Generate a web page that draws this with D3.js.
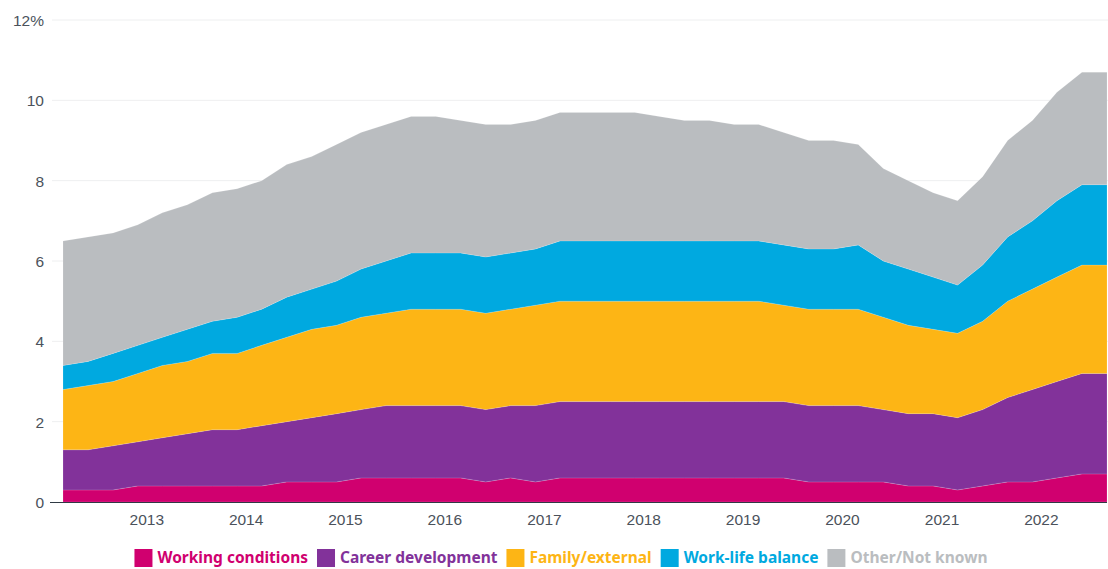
<!DOCTYPE html>
<html>
<head>
<meta charset="utf-8">
<script src="https://cdn.jsdelivr.net/npm/d3@7"></script>
<style>
  body { margin: 0; background: #fff; }
  svg { display: block; font-family: "Noto Sans", "Open Sans", sans-serif; }
  .tick-label { fill: #4b525b; font-size: 15.5px; }
  .legend-label { font-size: 15.5px; font-weight: 700; }
</style>
</head>
<body>
<div id="chart"></div>
<script>
const width = 1108;
const height = 569;
const margin = { top: 20, bottom: 67, left: 63, right: 1 };

// quarterly observations, first one early 2012
const startDate = new Date(2012, 2, 1);
const nPoints = 43;

const working = [0.3,0.3,0.3,0.4,0.4,0.4,0.4,0.4,0.4,0.5,0.5,0.5,0.6,0.6,0.6,0.6,0.6,0.5,0.6,0.5,0.6,0.6,0.6,0.6,0.6,0.6,0.6,0.6,0.6,0.6,0.5,0.5,0.5,0.5,0.4,0.4,0.3,0.4,0.5,0.5,0.6,0.7,0.7];
const career = [1.0,1.0,1.1,1.1,1.2,1.3,1.4,1.4,1.5,1.5,1.6,1.7,1.7,1.8,1.8,1.8,1.8,1.8,1.8,1.9,1.9,1.9,1.9,1.9,1.9,1.9,1.9,1.9,1.9,1.9,1.9,1.9,1.9,1.8,1.8,1.8,1.8,1.9,2.1,2.3,2.4,2.5,2.5];
const family = [1.5,1.6,1.6,1.7,1.8,1.8,1.9,1.9,2.0,2.1,2.2,2.2,2.3,2.3,2.4,2.4,2.4,2.4,2.4,2.5,2.5,2.5,2.5,2.5,2.5,2.5,2.5,2.5,2.5,2.4,2.4,2.4,2.4,2.3,2.2,2.1,2.1,2.2,2.4,2.5,2.6,2.7,2.7];
const workLife = [0.6,0.6,0.7,0.7,0.7,0.8,0.8,0.9,0.9,1.0,1.0,1.1,1.2,1.3,1.4,1.4,1.4,1.4,1.4,1.4,1.5,1.5,1.5,1.5,1.5,1.5,1.5,1.5,1.5,1.5,1.5,1.5,1.6,1.4,1.4,1.3,1.2,1.4,1.6,1.7,1.9,2.0,2.0];
const other = [3.1,3.1,3.0,3.0,3.1,3.1,3.2,3.2,3.2,3.3,3.3,3.4,3.4,3.4,3.4,3.4,3.3,3.3,3.2,3.2,3.2,3.2,3.2,3.2,3.1,3.0,3.0,2.9,2.9,2.8,2.7,2.7,2.5,2.3,2.2,2.1,2.1,2.2,2.4,2.5,2.7,2.8,2.8];

const seriesNames = ["Working conditions", "Career development", "Family/external", "Work-life balance", "Other/Not known"];
const seriesColors = ["#d0006f", "#82329a", "#fdb515", "#00a9e0", "#babdc0"];
const yTicks = [0, 2, 4, 6, 8, 10, 12];
const xTickYears = [2013, 2014, 2015, 2016, 2017, 2018, 2019, 2020, 2021, 2022];

let svg;

const dates = d3.range(nPoints).map(i => d3.timeMonth.offset(startDate, i * 3));
const rows = dates.map((d, i) => ({
  date: d,
  "Working conditions": working[i],
  "Career development": career[i],
  "Family/external": family[i],
  "Work-life balance": workLife[i],
  "Other/Not known": other[i]
}));

init();

function init() {
  svg = d3.select("#chart")
    .append("svg")
    .attr("width", width)
    .attr("height", height);

  const x = d3.scaleTime()
    .domain(d3.extent(dates))
    .range([margin.left, width - margin.right]);

  const y = d3.scaleLinear()
    .domain([0, 12])
    .range([height - margin.bottom, margin.top]);

  const color = d3.scaleOrdinal().domain(seriesNames).range(seriesColors);

  // grid lines
  svg.append("g")
    .selectAll("line")
    .data(yTicks.filter(t => t > 0))
    .enter().append("line")
    .attr("x1", 52)
    .attr("x2", width)
    .attr("y1", d => y(d))
    .attr("y2", d => y(d))
    .attr("stroke", "#eeeff0")
    .attr("stroke-width", 1);

  const stacked = d3.stack().keys(seriesNames)(rows);

  const area = d3.area()
    .x(d => x(d.data.date))
    .y0(d => y(d[0]))
    .y1(d => y(d[1]));

  svg.append("g")
    .selectAll("path")
    .data(stacked)
    .enter().append("path")
    .attr("d", area)
    .attr("fill", d => color(d.key))
    .attr("stroke", "rgba(255,255,255,0.25)")
    .attr("stroke-width", 0.6);

  // y axis labels
  const yAxis = d3.axisLeft(y)
    .tickValues(yTicks)
    .tickSize(0)
    .tickPadding(0)
    .tickFormat(d => d === 12 ? "12%" : d);

  svg.append("g")
    .attr("transform", "translate(44,0)")
    .call(yAxis)
    .call(g => g.select(".domain").remove())
    .selectAll("text")
    .attr("class", "tick-label")
    .attr("dy", "0.35em");

  // x axis
  const xAxis = d3.axisBottom(x)
    .tickValues(xTickYears.map(yr => new Date(yr, 0, 1)))
    .tickSize(0)
    .tickPadding(12)
    .tickFormat(d3.timeFormat("%Y"));

  svg.append("g")
    .attr("transform", `translate(0,${y(0)})`)
    .call(xAxis)
    .call(g => g.select(".domain").remove())
    .selectAll("text")
    .attr("class", "tick-label");

  svg.append("line")
    .attr("x1", 50)
    .attr("x2", width - margin.right)
    .attr("y1", y(0) + 0.5)
    .attr("y2", y(0) + 0.5)
    .attr("stroke", "#2f3a44")
    .attr("stroke-width", 1.2);

  // legend
  const legend = svg.append("g").attr("transform", "translate(0,558)");
  const items = legend.selectAll("g")
    .data(seriesNames)
    .enter().append("g");

  items.append("rect")
    .attr("y", -9)
    .attr("width", 18)
    .attr("height", 18)
    .attr("fill", d => color(d));

  items.append("text")
    .attr("class", "legend-label")
    .attr("x", 23)
    .attr("dy", "0.33em")
    .attr("fill", d => color(d))
    .text(d => d);

  let pos = 0;
  const offsets = [];
  items.each(function () {
    offsets.push(pos);
    const w = d3.select(this).select("text").node().getComputedTextLength();
    pos += 23 + w + 9;
  });
  const total = pos - 9;
  const startX = 561 - total / 2;
  items.attr("transform", (d, i) => `translate(${startX + offsets[i]},0)`);
}
</script>
</body>
</html>
